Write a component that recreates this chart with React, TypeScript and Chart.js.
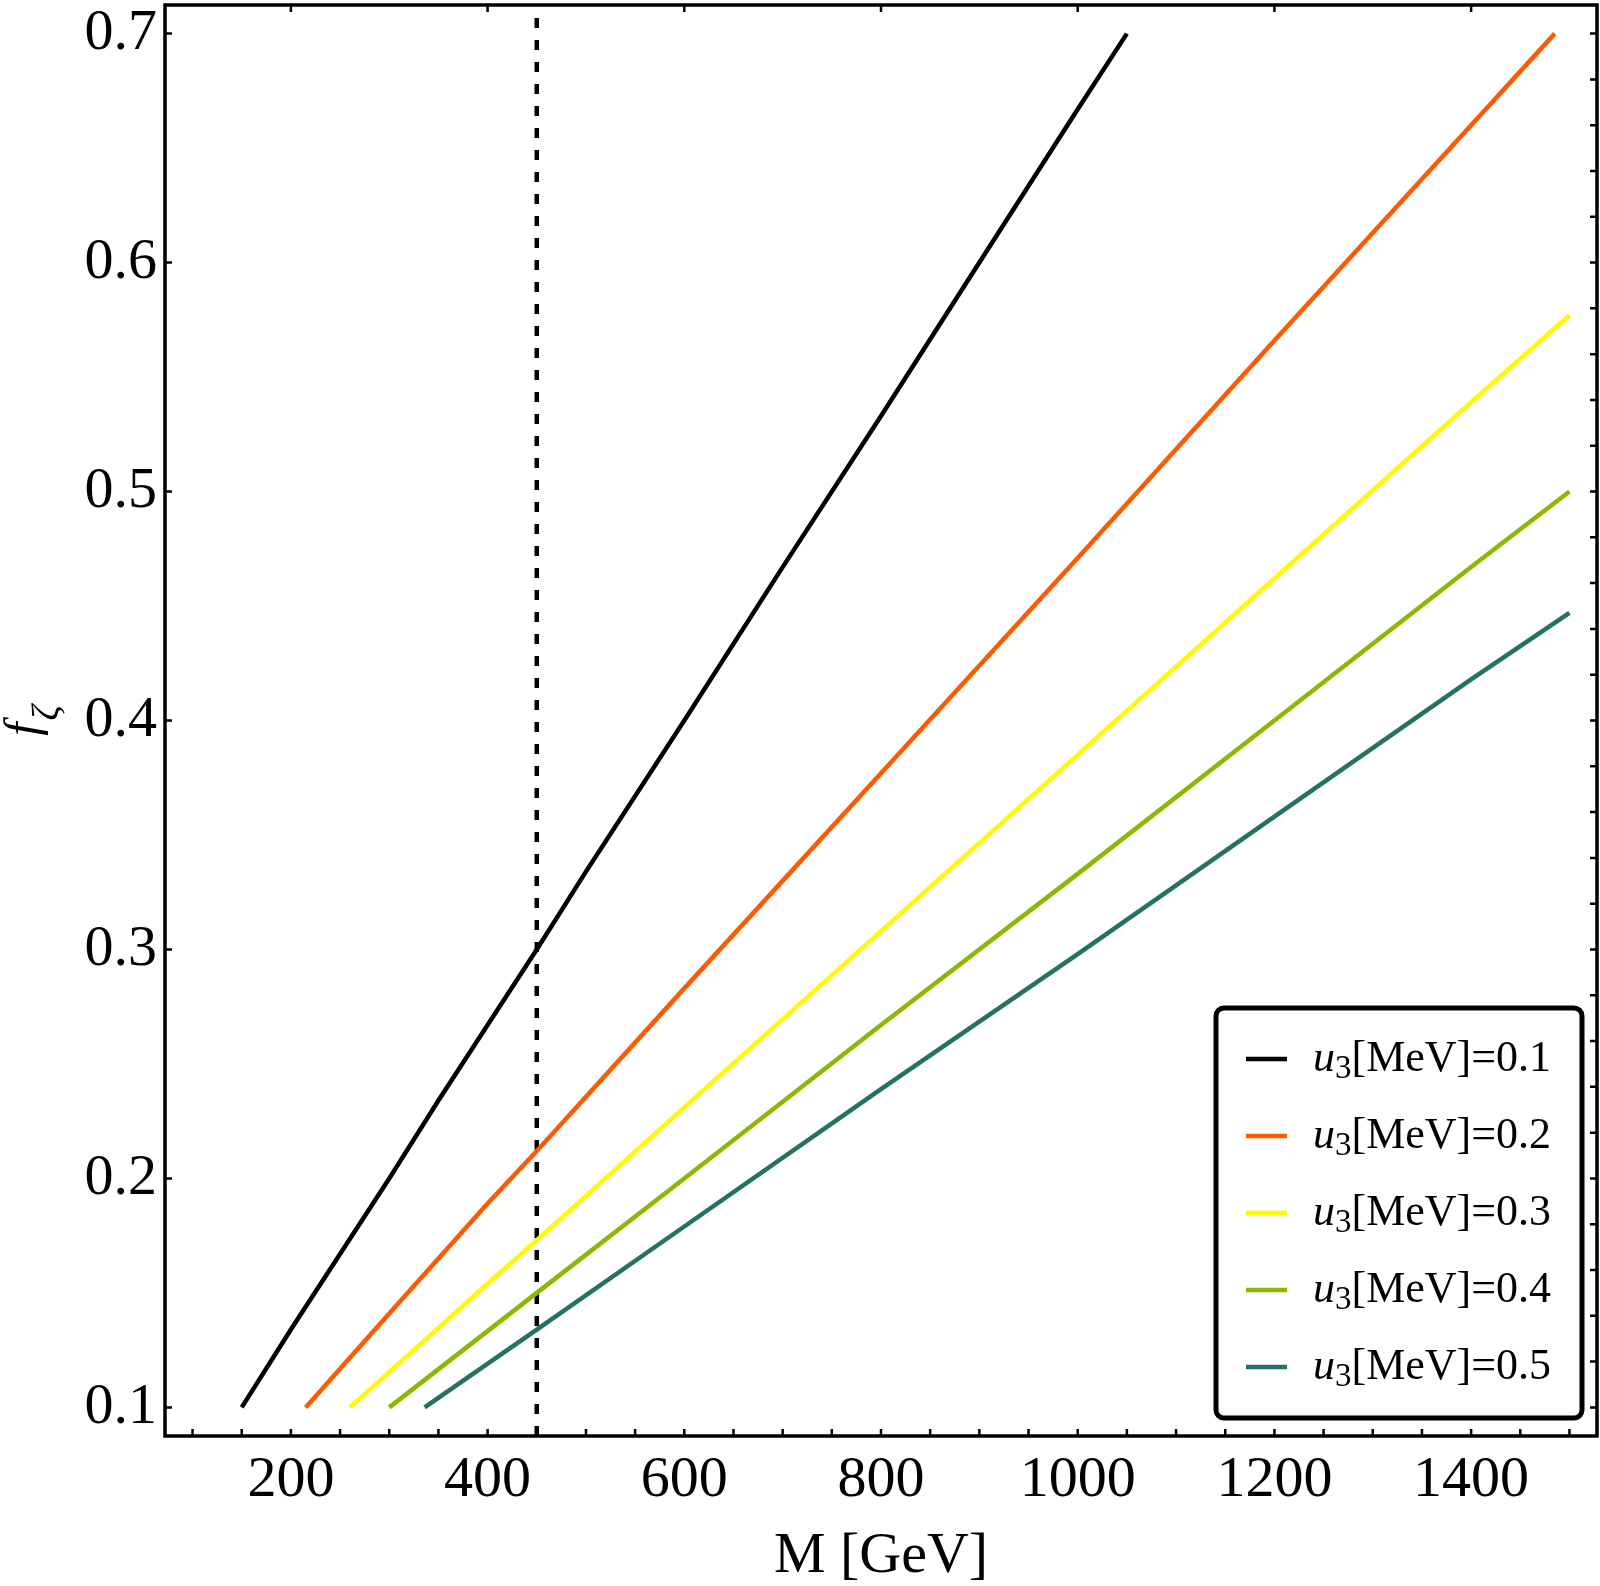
import { useEffect, useRef } from "react";
import { Chart, registerables } from "chart.js";
Chart.register(...registerables);

// u3 [MeV] values of the five curves
const U3_VALUES = ["0.1", "0.2", "0.3", "0.4", "0.5"];
const COLORS = ["#000000", "#ff5a00", "#fffa00", "#8cb900", "#267064"];

// M [GeV] and f_zeta
const M_01 = [150, 200, 250, 300, 350, 400, 450, 500, 600, 700, 800, 900, 1000, 1050];
const F_01 = [0.1, 0.134, 0.167, 0.2, 0.234, 0.267, 0.3, 0.334, 0.4, 0.467, 0.533, 0.6, 0.667, 0.7];
const M_02 = [215, 300, 400, 450, 600, 800, 1000, 1200, 1400, 1485];
const F_02 = [0.1, 0.141, 0.189, 0.212, 0.283, 0.377, 0.471, 0.566, 0.66, 0.7];
const M_03 = [260, 400, 450, 600, 800, 1000, 1200, 1400, 1500];
const F_03 = [0.1, 0.154, 0.173, 0.231, 0.308, 0.385, 0.462, 0.539, 0.577];
const M_04 = [300, 450, 600, 800, 1000, 1200, 1400, 1500];
const F_04 = [0.1, 0.15, 0.2, 0.267, 0.333, 0.4, 0.467, 0.5];
const M_05 = [336, 450, 600, 800, 1000, 1200, 1400, 1500];
const F_05 = [0.1, 0.134, 0.179, 0.239, 0.298, 0.358, 0.418, 0.447];

const CUT_M = 450; // dashed vertical line

const X_MIN = 72;
const X_MAX = 1528;
const Y_MIN = 0.0875;
const Y_MAX = 0.7125;
const X_TICKS = [200, 400, 600, 800, 1000, 1200, 1400];
const Y_TICKS = [0.1, 0.2, 0.3, 0.4, 0.5, 0.6, 0.7];

const FONT = '"Liberation Serif", "Times New Roman", serif';

const SERIES_M = [M_01, M_02, M_03, M_04, M_05];
const SERIES_F = [F_01, F_02, F_03, F_04, F_05];

const framePlugin = {
  id: "frame",
  afterDraw(chart: any) {
    const { ctx, chartArea: a, scales } = chart;
    const xs = scales.x;
    const ys = scales.y;
    ctx.save();

    // frame
    ctx.strokeStyle = "#000";
    ctx.lineWidth = 3.5;
    ctx.strokeRect(a.left, a.top, a.right - a.left, a.bottom - a.top);

    // inward ticks
    const tl = 7;
    ctx.lineWidth = 2.5;
    ctx.beginPath();
    for (let v = 100; v <= 1500; v += 50) {
      const px = xs.getPixelForValue(v);
      ctx.moveTo(px, a.bottom);
      ctx.lineTo(px, a.bottom - tl);
    }
    X_TICKS.forEach((v) => {
      const px = xs.getPixelForValue(v);
      ctx.moveTo(px, a.top);
      ctx.lineTo(px, a.top + tl);
    });
    Y_TICKS.forEach((v) => {
      const py = ys.getPixelForValue(v);
      ctx.moveTo(a.left, py);
      ctx.lineTo(a.left + tl, py);
    });
    for (let i = 0; i <= 30; i++) {
      const py = ys.getPixelForValue(0.1 + i * 0.02);
      ctx.moveTo(a.right, py);
      ctx.lineTo(a.right - tl, py);
    }
    ctx.stroke();

    // axis titles
    ctx.fillStyle = "#000";
    ctx.textBaseline = "alphabetic";
    ctx.textAlign = "center";
    ctx.font = `58px ${FONT}`;
    ctx.fillText("M [GeV]", (a.left + a.right) / 2, a.bottom + 136);

    ctx.save();
    ctx.translate(38, (a.top + a.bottom) / 2);
    ctx.rotate(-Math.PI / 2);
    ctx.textAlign = "left";
    ctx.font = `italic 48px ${FONT}`;
    const wf = ctx.measureText("f").width;
    ctx.font = `italic 38px ${FONT}`;
    const wz = ctx.measureText("ζ").width;
    const x0 = -(wf + wz + 2) / 2;
    ctx.font = `italic 48px ${FONT}`;
    ctx.fillText("f", x0, 0);
    ctx.font = `italic 38px ${FONT}`;
    ctx.fillText("ζ", x0 + wf + 2, 20);
    ctx.restore();

    // legend
    const bx = 1216, by = 1008, bw = 366, bh = 410, r = 8;
    ctx.beginPath();
    ctx.moveTo(bx + r, by);
    ctx.arcTo(bx + bw, by, bx + bw, by + bh, r);
    ctx.arcTo(bx + bw, by + bh, bx, by + bh, r);
    ctx.arcTo(bx, by + bh, bx, by, r);
    ctx.arcTo(bx, by, bx + bw, by, r);
    ctx.closePath();
    ctx.fillStyle = "#fff";
    ctx.fill();
    ctx.lineWidth = 5;
    ctx.strokeStyle = "#000";
    ctx.stroke();

    const ds = chart.data.datasets.filter((d: any) => d.u3);
    ds.forEach((d: any, i: number) => {
      const cy = by + 51 + i * 77;
      ctx.beginPath();
      ctx.strokeStyle = d.borderColor;
      ctx.lineWidth = 4.5;
      ctx.moveTo(1246, cy);
      ctx.lineTo(1287, cy);
      ctx.stroke();

      ctx.fillStyle = "#000";
      ctx.textAlign = "left";
      let tx = 1313;
      const base = cy + 12;
      ctx.font = `italic 44px ${FONT}`;
      ctx.fillText("u", tx, base);
      tx += ctx.measureText("u").width;
      ctx.font = `33px ${FONT}`;
      ctx.fillText("3", tx, base + 7);
      tx += ctx.measureText("3").width;
      ctx.font = `44px ${FONT}`;
      ctx.fillText(`[MeV]=${d.u3}`, tx, base);
    });

    ctx.restore();
  },
};

export default function App() {
  const canvasRef = useRef<HTMLCanvasElement | null>(null);
  const chartRef = useRef<Chart | null>(null);

  useEffect(() => {
    const ctx = canvasRef.current?.getContext("2d");
    if (chartRef.current) chartRef.current.destroy();
    if (!ctx) return;

    const curves = SERIES_M.map((ms, i) => ({
      label: `u3[MeV]=${U3_VALUES[i]}`,
      u3: U3_VALUES[i],
      data: ms.map((m, j) => ({ x: m, y: SERIES_F[i][j] })),
      borderColor: COLORS[i],
      borderWidth: 4.5,
      pointRadius: 0,
      tension: 0,
      fill: false,
    }));

    const cut = {
      label: "cut",
      data: [
        { x: CUT_M, y: Y_MIN },
        { x: CUT_M, y: Y_MAX },
      ],
      borderColor: "#000",
      borderWidth: 4.5,
      borderDash: [10, 12],
      pointRadius: 0,
      fill: false,
    };

    chartRef.current = new Chart(ctx, {
      type: "line",
      data: { datasets: [...curves, cut] as any },
      options: {
        animation: false,
        responsive: true,
        maintainAspectRatio: false,
        layout: { padding: { top: 5, right: 3, left: 0, bottom: 0 } },
        plugins: {
          legend: { display: false },
          tooltip: { enabled: false },
        },
        scales: {
          x: {
            type: "linear",
            min: X_MIN,
            max: X_MAX,
            afterBuildTicks: (s: any) => {
              s.ticks = X_TICKS.map((v) => ({ value: v }));
            },
            afterFit: (s: any) => {
              s.height = 150;
              s.paddingLeft = 0;
              s.paddingRight = 0;
            },
            grid: { display: false, drawTicks: false },
            border: { display: false },
            ticks: {
              color: "#000",
              font: { family: FONT, size: 58 },
              padding: 10,
              maxRotation: 0,
              autoSkip: false,
              callback: (v: any) => String(v),
            },
          },
          y: {
            type: "linear",
            min: Y_MIN,
            max: Y_MAX,
            afterBuildTicks: (s: any) => {
              s.ticks = Y_TICKS.map((v) => ({ value: v }));
            },
            afterFit: (s: any) => {
              s.width = 165;
              s.paddingTop = 0;
              s.paddingBottom = 0;
            },
            grid: { display: false, drawTicks: false },
            border: { display: false },
            ticks: {
              color: "#000",
              font: { family: FONT, size: 58 },
              padding: 8,
              autoSkip: false,
              callback: (v: any) => Number(v).toFixed(1),
            },
          },
        },
      },
      plugins: [framePlugin],
    });

    return () => {
      if (chartRef.current) {
        chartRef.current.destroy();
        chartRef.current = null;
      }
    };
  }, []);

  return (
    <div style={{ position: "absolute", left: 0, top: 0, width: 1600, height: 1586, background: "#fff" }}>
      <canvas ref={canvasRef} />
    </div>
  );
}
